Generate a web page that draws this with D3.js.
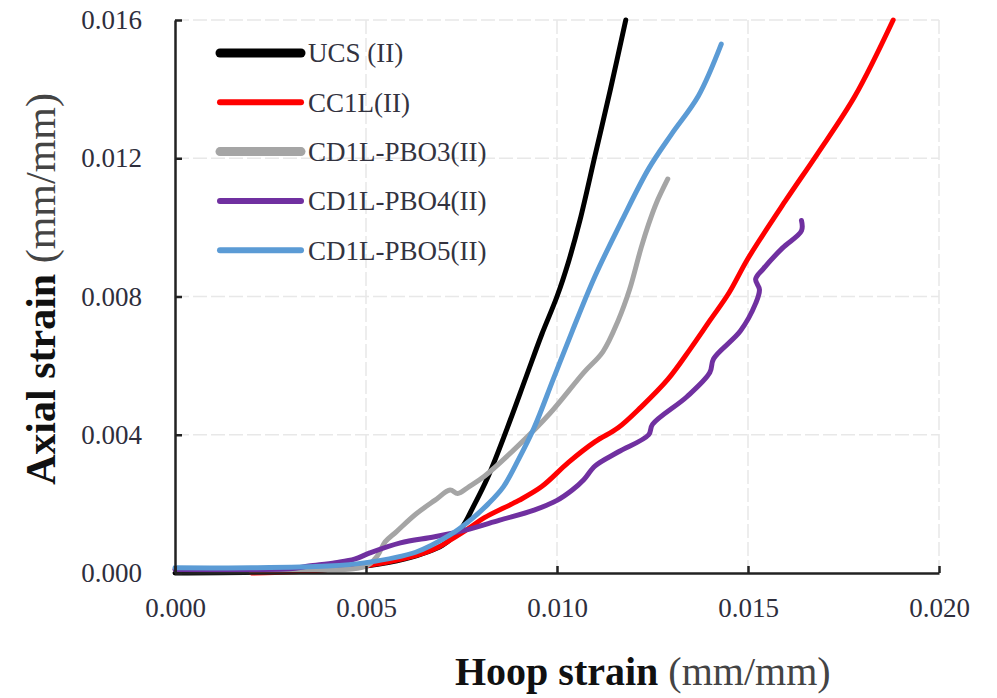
<!DOCTYPE html>
<html lang="en">
<head>
<meta charset="utf-8">
<title>Axial vs hoop strain</title>
<script src="https://cdn.jsdelivr.net/npm/d3@7"></script>
<style>
  body { margin: 0; background: #fff; }
  svg text { font-family: "Liberation Serif", "Times New Roman", serif; }
  .tick text { fill: #2e2e3c; font-size: 27px; }
  .grid line { stroke: #e8e8e8; stroke-width: 1.5; stroke-dasharray: 14,4; }
  .series { fill: none; stroke-linejoin: round; stroke-linecap: round; }
</style>
</head>
<body>
<div id="chart"></div>
<script>
// tick values
var xTicks = [0, 0.005, 0.010, 0.015, 0.020];
var yTicks = [0, 0.004, 0.008, 0.012, 0.016];

// series names and colours (legend order)
var names = ["UCS (II)", "CC1L(II)", "CD1L-PBO3(II)", "CD1L-PBO4(II)", "CD1L-PBO5(II)"];
var colors = ["#000000", "#ff0000", "#a5a5a5", "#7030a0", "#5b9bd5"];

// [hoop strain, axial strain]
var ucs = [[0,0],[0.002,0.00002],[0.004,0.0001],[0.005,0.0002],[0.006,0.0004],[0.007,0.0008],
  [0.0075,0.0013],[0.0078,0.0019],[0.0082,0.0028],[0.0087,0.0042],[0.0092,0.0057],[0.0096,0.0069],
  [0.0100,0.0080],[0.0103,0.0090],[0.0106,0.0102],[0.0110,0.0121],[0.0114,0.0140],[0.0118,0.0160]];
var cc1l = [[0.002,0],[0.003,0.00003],[0.004,0.0001],[0.0046,0.00015],[0.0055,0.0003],[0.0063,0.0005],
  [0.0069,0.00075],[0.0072,0.00095],[0.0077,0.0013],[0.0081,0.0016],[0.0090,0.0021],[0.0096,0.0025],
  [0.0103,0.0032],[0.0110,0.0038],[0.0116,0.0042],[0.0122,0.0048],[0.0129,0.0056],[0.0135,0.0065],
  [0.0140,0.0073],[0.0145,0.0081],[0.0150,0.0091],[0.0160,0.0108],[0.0168,0.0121],[0.0178,0.0138],
  [0.0188,0.0160]];
var pbo3 = [[0,0.0001],[0.003,0.0001],[0.005,0.0002],[0.0053,0.0005],[0.0055,0.0009],[0.0058,0.0012],
  [0.0063,0.0017],[0.0068,0.0021],[0.0072,0.0024],[0.0074,0.0023],[0.0077,0.0025],[0.0081,0.0028],
  [0.0090,0.0037],[0.0098,0.0046],[0.0107,0.0058],[0.0112,0.0064],[0.0116,0.0073],[0.0119,0.0082],
  [0.0122,0.0094],[0.0124,0.0101],[0.0126,0.0107],[0.0129,0.0114]];
var pbo4 = [[0,0.0001],[0.002,0.0001],[0.003,0.00012],[0.0035,0.0002],[0.0042,0.0003],[0.0047,0.0004],
  [0.0051,0.00058],[0.0059,0.00087],[0.0068,0.00105],[0.0076,0.00124],[0.0085,0.00153],[0.0094,0.00182],
  [0.0100,0.0021],[0.0104,0.0024],[0.0107,0.0027],[0.0110,0.0031],[0.0116,0.0035],[0.0124,0.0040],
  [0.0125,0.0043],[0.0134,0.0051],[0.0140,0.0058],[0.0141,0.0062],[0.0148,0.0070],[0.0152,0.0078],
  [0.0153,0.0082],[0.0152,0.0085],[0.0154,0.0088],[0.0159,0.0094],[0.0164,0.0099],[0.0164,0.0102]];
var pbo5 = [[0,0.00015],[0.002,0.00015],[0.004,0.0002],[0.005,0.0003],[0.0063,0.0006],[0.0072,0.0011],
  [0.0077,0.0015],[0.0082,0.0020],[0.0086,0.0025],[0.0090,0.0033],[0.0094,0.0042],[0.0099,0.0056],
  [0.0104,0.0070],[0.0110,0.0086],[0.0117,0.0102],[0.0124,0.0117],[0.0130,0.0127],[0.0137,0.0138],
  [0.0143,0.0153]];

var allSeries = [ucs, cc1l, pbo3, pbo4, pbo5];

var W = 997, H = 698;
var margin = {top: 20, right: 58, bottom: 125, left: 175};
var width = W - margin.left - margin.right,
    height = H - margin.top - margin.bottom;

var svg = d3.select("#chart").append("svg")
    .attr("width", W)
    .attr("height", H);

var g = svg.append("g")
    .attr("transform", "translate(" + margin.left + "," + margin.top + ")");

var x = d3.scaleLinear().domain([0, 0.020]).range([0, width]);
var y = d3.scaleLinear().domain([0, 0.016]).range([height, 0]);

// gridlines
var grid = g.append("g").attr("class", "grid");
grid.selectAll(".gx").data(xTicks.slice(1)).enter().append("line")
    .attr("x1", function(d) { return x(d); }).attr("x2", function(d) { return x(d); })
    .attr("y1", 0).attr("y2", height);
grid.selectAll(".gy").data(yTicks.slice(1)).enter().append("line")
    .attr("y1", function(d) { return y(d); }).attr("y2", function(d) { return y(d); })
    .attr("x1", 0).attr("x2", width);

// lines
var line = d3.line()
    .x(function(d) { return x(d[0]); })
    .y(function(d) { return y(d[1]); })
    .curve(d3.curveCatmullRom.alpha(0.5));

g.selectAll(".series").data(allSeries).enter().append("path")
    .attr("class", "series")
    .attr("d", line)
    .attr("stroke", function(d, i) { return colors[i]; })
    .attr("stroke-width", 5);

// axes
var xAxis = g.append("g")
    .attr("transform", "translate(0," + height + ")")
    .call(d3.axisBottom(x).tickValues(xTicks).tickFormat(d3.format(".3f"))
      .tickSizeInner(-7).tickSizeOuter(0).tickPadding(25));
var yAxis = g.append("g")
    .call(d3.axisLeft(y).tickValues(yTicks).tickFormat(d3.format(".3f"))
      .tickSizeInner(-7).tickSizeOuter(0).tickPadding(33));
[xAxis, yAxis].forEach(function(a) {
  a.select(".domain").attr("stroke", "#222").attr("stroke-width", 2.5);
  a.selectAll(".tick line").attr("stroke", "#222").attr("stroke-width", 2.5);
  a.attr("font-family", null).attr("font-size", null);
});

// legend
var legend = svg.append("g");
var lg = legend.selectAll("g").data(names).enter().append("g")
    .attr("transform", function(d, i) { return "translate(0," + (53 + i * 49.3) + ")"; });
lg.append("line")
    .attr("x1", 220).attr("x2", 301).attr("y1", 0).attr("y2", 0)
    .attr("stroke", function(d, i) { return colors[i]; })
    .attr("stroke-width", function(d, i) { return (i === 0 || i === 2) ? 9 : 6; })
    .attr("stroke-linecap", "round");
lg.append("text")
    .attr("x", 308).attr("y", 0).attr("dy", "0.35em")
    .attr("font-size", 27).attr("fill", "#33333f")
    .text(function(d) { return d; });

// axis titles
var xt = svg.append("text").attr("x", 455).attr("y", 685).attr("font-size", 40).attr("fill", "#111");
xt.append("tspan").attr("font-weight", "bold").text("Hoop strain");
xt.append("tspan").attr("fill", "#444").text(" (mm/mm)");

var yt = svg.append("text").attr("transform", "translate(55,485) rotate(-90)")
    .attr("font-size", 42).attr("fill", "#111");
yt.append("tspan").attr("font-weight", "bold").text("Axial strain");
yt.append("tspan").attr("fill", "#444").text(" (mm/mm)");
</script>
</body>
</html>
